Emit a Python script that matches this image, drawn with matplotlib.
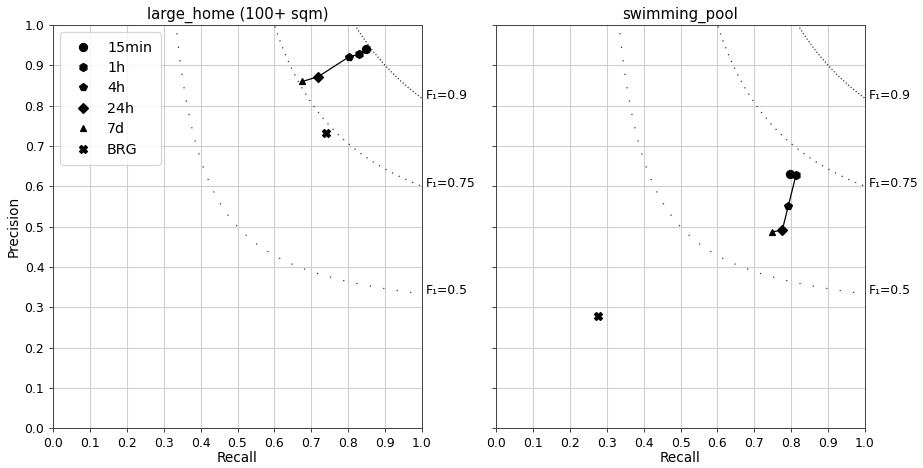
import numpy as np
import matplotlib
matplotlib.use("Agg")
import matplotlib.pyplot as plt

DPI = 89
plt.rcParams['font.family'] = ['DejaVu Sans']

# Horizons and their markers
horizons = ["15min", "1h", "4h", "24h", "7d"]
markers = ["o", "h", "p", "D", "^"]
brg_label = "BRG"

# large_home (100+ sqm)
home_recall = [0.848, 0.830, 0.802, 0.719, 0.676]
home_precision = [0.940, 0.928, 0.921, 0.872, 0.860]
home_brg = (0.740, 0.732)

# swimming_pool
pool_recall = [0.797, 0.813, 0.792, 0.776, 0.749]
pool_precision = [0.630, 0.628, 0.551, 0.492, 0.487]
pool_brg = (0.277, 0.278)

panels = [
    ("large_home (100+ sqm)", home_recall, home_precision, home_brg),
    ("swimming_pool", pool_recall, pool_precision, pool_brg),
]

f1_levels = [0.5, 0.75, 0.9]
f1_styles = {0.5: (0, (1, 10)), 0.75: (0, (1, 5)), 0.9: (0, (1, 1.65))}
f1_labels = ["F\u2081=0.5", "F\u2081=0.75", "F\u2081=0.9"]

fig = plt.figure(figsize=(923 / DPI, 468 / DPI), dpi=DPI)
ax_w = 369 / 923
ax_h = 403.3 / 468
bottom = 1 - 428.3 / 468
lefts = [53 / 923, 496 / 923]
axes = []
for i, left in enumerate(lefts):
    ax = fig.add_axes([left, bottom, ax_w, ax_h], sharey=axes[0] if axes else None)
    axes.append(ax)

for i, (ax, (title, rec, prec, brg)) in enumerate(zip(axes, panels)):
    ax.set_axisbelow(True)
    ax.grid(True, color='#cfcfcf', linewidth=0.9)
    # iso-F1 curves
    r = np.linspace(0.01, 1.0, 2000)
    for f, lab in zip(f1_levels, f1_labels):
        p = f * r / (2 * r - f)
        m = (p >= 0) & (p <= 1.05)
        ax.plot(r[m], p[m], color='#333333', linewidth=1.0,
                linestyle=f1_styles[f], dash_capstyle='butt')
        p_end = f / (2 - f)
        ax.text(1.01, p_end + 0.008, lab, fontsize=10, va='center', ha='left',
                transform=ax.transData, clip_on=False)
    # precision/recall path across horizons
    ax.plot(rec, prec, color='black', linewidth=1.0, zorder=3)
    for x, y, mk, lab in zip(rec, prec, markers, horizons):
        ax.plot([x], [y], linestyle='none', marker=mk, color='black',
                markersize=6.5 if mk in ("o", "h", "p") else 5.5,
                label=lab, zorder=4)
    ax.plot([brg[0]], [brg[1]], linestyle='none', marker='X', color='black',
            markersize=6.5, label=brg_label, zorder=4)

    ax.set_xlim(0, 1)
    ax.set_ylim(0, 1)
    ax.set_xticks(np.arange(0, 1.01, 0.1))
    ax.set_yticks(np.arange(0, 1.01, 0.1))
    ax.set_xticklabels([f"{v:.1f}" for v in np.arange(0, 1.01, 0.1)])
    ax.set_title(title, fontsize=12, pad=5)
    ax.set_xlabel("Recall", fontsize=11, labelpad=1)
    ax.tick_params(labelsize=10, length=3.5, color='#444444')
    for s in ax.spines.values():
        s.set_color('#444444')
    if i == 0:
        ax.set_ylabel("Precision", fontsize=11, labelpad=3)
        ax.set_yticklabels([f"{v:.1f}" for v in np.arange(0, 1.01, 0.1)])
        ax.legend(loc='upper left', fontsize=11.5, borderpad=0.6,
                  labelspacing=0.45, handletextpad=0.7, framealpha=0.8,
                  edgecolor='#cccccc')
    else:
        ax.tick_params(labelleft=False)

fig.savefig("out.png", dpi=DPI)
